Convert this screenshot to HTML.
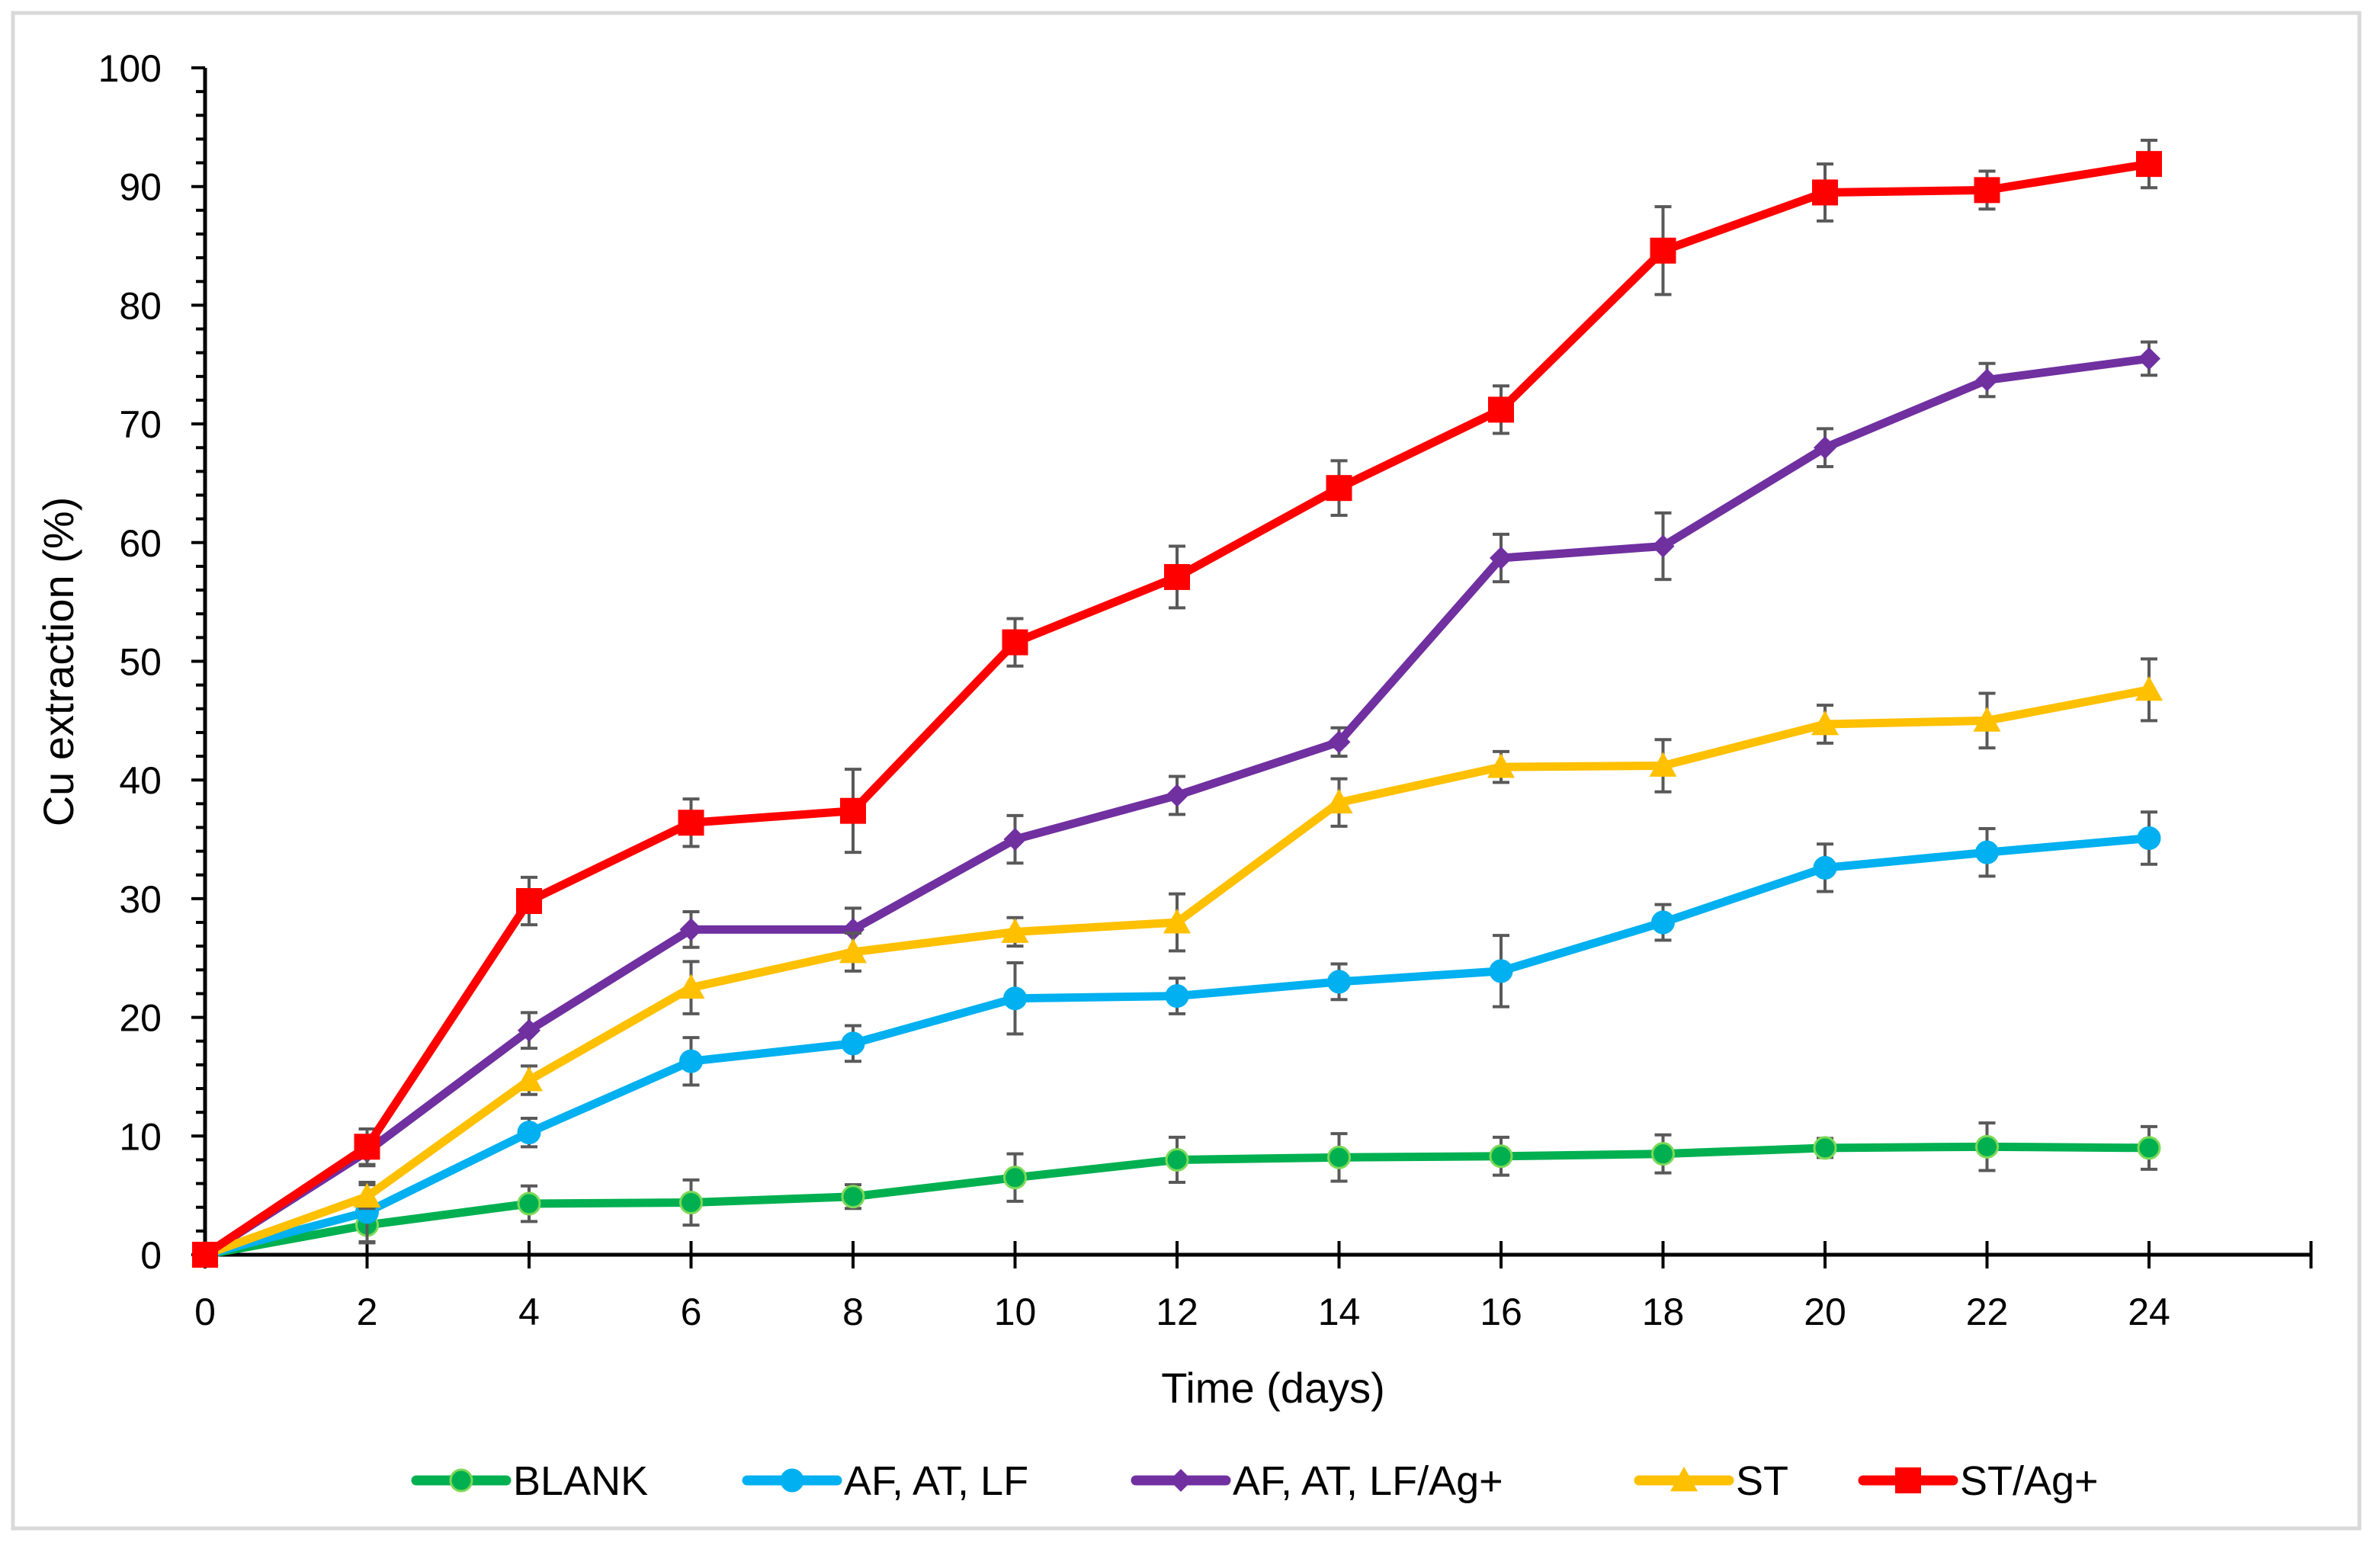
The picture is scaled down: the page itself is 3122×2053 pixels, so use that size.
<!DOCTYPE html>
<html><head><meta charset="utf-8"><style>
html,body{margin:0;padding:0;background:#fff}
svg{display:block;font-family:"Liberation Sans",sans-serif}
</style></head><body>
<svg id="c" width="3122" height="2053" viewBox="0 0 3122 2053">
<rect x="17" y="17" width="3078" height="1988" fill="#fff" stroke="#d9d9d9" stroke-width="5"/>
<g id="axes"></g><g id="series"></g><g id="legend"></g>
<text x="1670" y="1840" font-size="56" text-anchor="middle">Time (days)</text>
<text transform="translate(96,868) rotate(-90)" font-size="56" text-anchor="middle">Cu extraction (%)</text>
</svg>
<script>
const days=[0,2,4,6,8,10,12,14,16,18,20,22,24];
const blank=[0,2.5,4.3,4.4,4.9,6.5,8.0,8.2,8.3,8.5,9.0,9.1,9.0];
const blankErr=[0,1.5,1.5,1.9,1,2,1.9,2,1.6,1.6,0.8,2,1.8];
const afat=[0,3.6,10.3,16.3,17.8,21.6,21.8,23.0,23.9,28.0,32.6,33.9,35.1];
const afatErr=[0,2.5,1.2,2,1.5,3,1.5,1.5,3,1.5,2,2,2.2];
const afatAg=[0,8.7,18.9,27.4,27.4,35.0,38.7,43.2,58.7,59.7,68.0,73.7,75.5];
const afatAgErr=[0,1.2,1.5,1.5,1.8,2,1.6,1.2,2,2.8,1.6,1.4,1.4];
const st=[0,4.9,14.7,22.5,25.5,27.2,28.0,38.1,41.1,41.2,44.7,45.0,47.6];
const stErr=[0,1,1.2,2.2,1.6,1.2,2.4,2,1.3,2.2,1.6,2.3,2.6];
const stAg=[0,9.1,29.8,36.4,37.4,51.6,57.1,64.6,71.2,84.6,89.5,89.7,91.9];
const stAgErr=[0,1.5,2,2,3.5,2,2.6,2.3,2,3.7,2.4,1.6,2];
const xTicks=[0,2,4,6,8,10,12,14,16,18,20,22,24];
const yTicks=[0,10,20,30,40,50,60,70,80,90,100];
const NS="http://www.w3.org/2000/svg";
const X0=269,XS=106.25,Y0=1646,YS=15.57;
const sx=v=>X0+v*XS, sy=v=>Y0-v*YS;
function mk(tag,attrs,parent,text){const e=document.createElementNS(NS,tag);for(const k in attrs)e.setAttribute(k,attrs[k]);if(text!==undefined)e.textContent=text;parent.appendChild(e);return e;}
const ax=document.getElementById('axes');
let l=mk('line',{x1:sx(0),y1:sy(0),x2:sx(0),y2:sy(100),stroke:'#000','stroke-width':5},ax);


l=mk('line',{x1:sx(0),y1:sy(0),x2:sx(26),y2:sy(0),stroke:'#000','stroke-width':5},ax);


for(let v=0;v<=100;v+=2){const major=v%10===0;mk('line',{x1:sx(0)-(major?18:12),y1:sy(v),x2:sx(0),y2:sy(v),stroke:'#000','stroke-width':4},ax);}
yTicks.forEach(v=>{const t=mk('text',{x:212,y:sy(v)+18,'font-size':50,'text-anchor':'end'},ax,String(v));

});
for(let d=0;d<=26;d+=2){mk('line',{x1:sx(d),y1:sy(0)-18,x2:sx(d),y2:sy(0)+18,stroke:'#000','stroke-width':4},ax);}
xTicks.forEach(v=>{const t=mk('text',{x:sx(v),y:1738,'font-size':50,'text-anchor':'middle'},ax,String(v));

});
const S=[
{name:'BLANK',vals:blank,err:blankErr,color:'#00b050',m:'circle',mc:'#00b050',ms:'#7ed957'},
{name:'AF, AT, LF',vals:afat,err:afatErr,color:'#00b0f0',m:'circle',mc:'#00b0f0',ms:'#00b0f0'},
{name:'AF, AT, LF/Ag+',vals:afatAg,err:afatAgErr,color:'#7030a0',m:'diamond',mc:'#7030a0',ms:'#7030a0'},
{name:'ST',vals:st,err:stErr,color:'#ffc000',m:'triangle',mc:'#ffc000',ms:'#ffc000'},
{name:'ST/Ag+',vals:stAg,err:stAgErr,color:'#ff0000',m:'square',mc:'#ff0000',ms:'#ff0000'}];
function marker(g,type,x,y,fill,stroke,scale){scale=scale||1;let e;
if(type==='circle')e=mk('circle',{cx:x,cy:y,r:14*scale,fill:fill,stroke:stroke,'stroke-width':3},g);
else if(type==='square')e=mk('rect',{x:x-17*scale,y:y-17*scale,width:34*scale,height:34*scale,fill:fill},g);
else if(type==='diamond'){const r=15*scale;e=mk('polygon',{points:`${x},${y-r} ${x+r},${y} ${x},${y+r} ${x-r},${y}`,fill:fill},g);}
else {const r=18*scale;e=mk('polygon',{points:`${x},${y-r} ${x+r},${y+r*0.8} ${x-r},${y+r*0.8}`,fill:fill},g);}
return e;}
const sg=document.getElementById('series');
S.forEach((s,i)=>{const g=mk('g',{},sg);


days.forEach((d,j)=>{if(s.err[j]>0){const x=sx(d),a=sy(s.vals[j]+s.err[j]),b=sy(s.vals[j]-s.err[j]);
mk('path',{d:`M${x},${a}V${b}M${x-11},${a}H${x+11}M${x-11},${b}H${x+11}`,stroke:'#595959','stroke-width':4,fill:'none'},g);}});
const p=mk('polyline',{points:days.map((d,j)=>sx(d)+','+sy(s.vals[j])).join(' '),fill:'none',stroke:s.color,'stroke-width':11,'stroke-linejoin':'round','stroke-linecap':'round'},g);


days.forEach((d,j)=>{const m=marker(g,s.m,sx(d),sy(s.vals[j]),s.mc,s.ms);

});
});
const lg=document.getElementById('legend');
const lx=[546,980,1490,2150,2444];
S.forEach((s,i)=>{const g=mk('g',{},lg);


const y=1942;mk('line',{x1:lx[i],y1:y,x2:lx[i]+118,y2:y,stroke:s.color,'stroke-width':13,'stroke-linecap':'round'},g);
marker(g,s.m,lx[i]+59,y,s.mc,s.ms);
mk('text',{x:lx[i]+127,y:y+19,'font-size':54},g,s.name);});
</script>
</body></html>
